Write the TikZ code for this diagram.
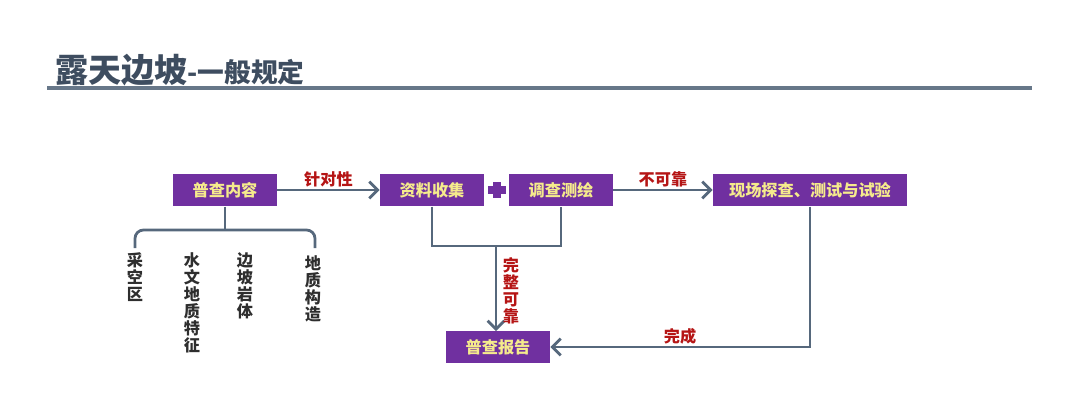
\documentclass[tikz,border=0pt]{standalone}
\usepackage{fontspec}
\setmainfont{Noto Sans CJK SC}
\usetikzlibrary{
  positioning,
  arrows.meta
}
\definecolor{boxpurple}{HTML}{7030A0}
\definecolor{boxtext}{HTML}{F5EB8C}
\definecolor{flowline}{HTML}{56687C}
\definecolor{labelred}{HTML}{B51515}
\definecolor{titleink}{HTML}{3E4D60}
\definecolor{itemink}{HTML}{2E2E2E}

\begin{document}
\begin{tikzpicture}[
  x=0.025cm, y=-0.025cm,
  stepbox/.style={fill=boxpurple, text=boxtext, font=\bfseries\fontsize{11.5}{13}\selectfont,
                  minimum width=2.6cm, minimum height=0.82cm, inner sep=0pt},
  item/.style={anchor=north, align=center, text=itemink, inner sep=0pt,
               font=\bfseries\fontsize{11.5}{12.2}\selectfont},
  tag/.style={text=labelred, font=\bfseries\fontsize{11.5}{12}\selectfont, inner sep=1pt},
  line/.style={draw=flowline, line width=2pt},
  flow/.style={line, -{Straight Barb[length=6pt, width=12pt, line width=2pt]}}
]
  \useasboundingbox (0,0) rectangle (1080,404);

  % Title
  \node[anchor=base west, text=titleink, inner sep=0pt] (title) at (55,82)
    {\bfseries\fontsize{23.5}{26}\selectfont 露天边坡\fontsize{19}{22}\selectfont -一般规定};
  \draw[flowline!90, line width=2.8pt] (47,88) -- (1032,88);

  % Boxes
  \node[stepbox] (survey) at (225,190) {普查内容};
  \node[stepbox] (collect) at (432,190) {资料收集};
  \node[stepbox] (map) at (561,190) {调查测绘};
  \node[stepbox, minimum width=4.85cm] (field) at (810,190) {现场探查、测试与试验};
  \node[stepbox, minimum height=0.78cm] (report) at (498,347) {普查报告};

  % Plus sign
  \coordinate (plus) at (497,190);
  \fill[boxpurple] (plus) ++(-9,-4) rectangle ++(18,8);
  \fill[boxpurple] (plus) ++(-4,-8) rectangle ++(8,16);

  % Items under survey
  \node[item] (i1) at (135,252) {采\\空\\区};
  \node[item] (i2) at (192,252) {水\\文\\地\\质\\特\\征};
  \node[item] (i3) at (245,252) {边\\坡\\岩\\体};
  \node[item] (i4) at (313,255) {地\\质\\构\\造};
  \coordinate (b1) at (135,248);
  \coordinate (b4) at (315,248);
  \draw[line, rounded corners=6pt] (b1) |- (225,230) -| (b4);
  \draw[line] (survey.south) -- (survey.south |- 0,230);

  % Flow
  \draw[flow] (survey.east) -- (collect.west) node[midway, above, tag] {针对性};
  \draw[flow] (map.east) -- (field.west) node[midway, above, tag] {不可靠};
  \coordinate (join) at (496,246);
  \draw[line] (collect.south) |- (join) -| (map.south);
  \draw[flow] (join) -- (join |- report.north);
  \node[tag, align=center, anchor=north] (whole) at (511,256) {完\\整\\可\\靠};
  \draw[flow] (field.south) |- (report.east) node[pos=0.75, above, tag] {完成};
\end{tikzpicture}
\end{document}
